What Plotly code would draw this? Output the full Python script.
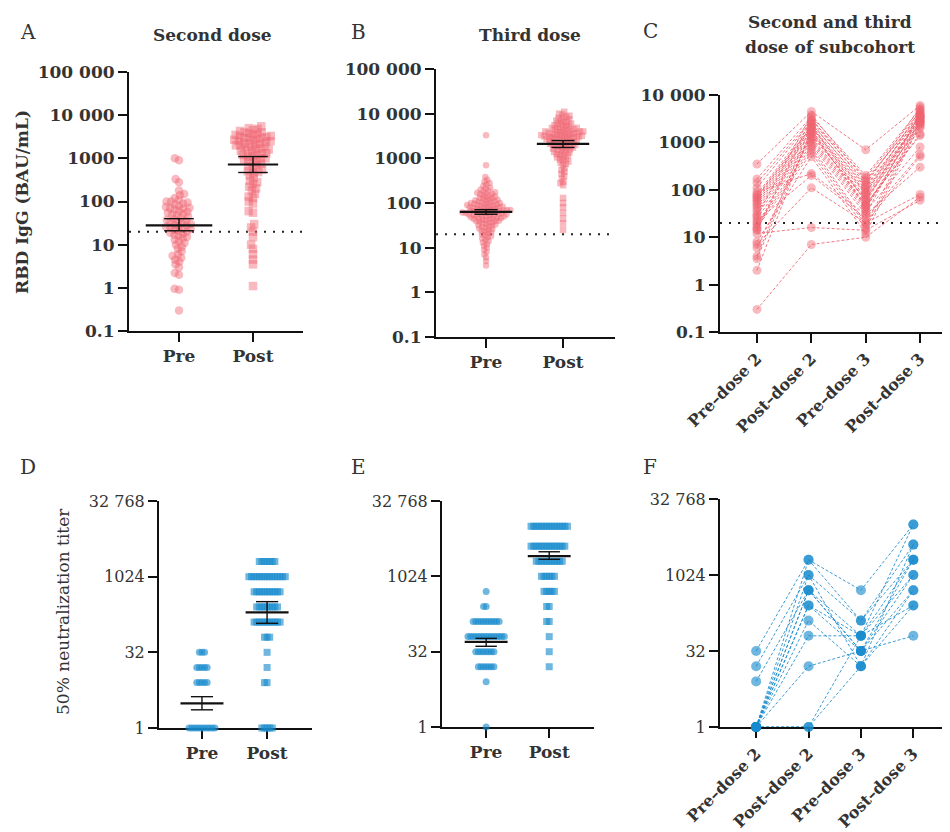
import math
import plotly.graph_objects as go

# page has an 8px body margin, so the figure is 8px smaller than the window
OFF = 8
W, H = 950 - OFF, 832 - OFF

# ---------------- data ----------------
GROUPS = ["Pre", "Post"]
SUB_CATS = ["Pre–dose 2", "Post–dose 2", "Pre–dose 3", "Post–dose 3"]
THRESHOLD = 20

# A: RBD IgG, second dose
A_pre = [1000, 900, 330, 280, 180, 150, 140, 120, 110, 100, 100, 95, 90, 85, 80, 75, 72, 70, 68, 65,
         60, 58, 55, 52, 50, 48, 45, 42, 40, 38, 36, 35, 33, 32, 30, 29, 28, 27, 26, 25, 24, 23, 22,
         21, 20, 19, 18, 17, 16, 15, 14, 13, 12, 11, 10, 9, 8, 7, 6, 5.5, 5, 4.5, 4, 3.5, 3, 2.2, 2,
         0.95, 0.9, 0.3]
A_post = [5500, 5000, 4800, 4500, 4300, 4000, 4000, 3800, 3600, 3500, 3400, 3300, 3200, 3100, 3000,
          3000, 2900, 2800, 2700, 2600, 2500, 2500, 2400, 2300, 2200, 2200, 2100, 2000, 2000, 1900,
          1800, 1800, 1700, 1600, 1600, 1500, 1500, 1400, 1300, 1300, 1200, 1200, 1100, 1100, 1000,
          1000, 950, 900, 850, 800, 750, 700, 650, 600, 550, 500, 480, 450, 400, 350, 300, 280, 250,
          220, 200, 180, 150, 130, 120, 100, 90, 60, 55, 30, 25, 20, 15, 10, 8, 6, 4.5, 3.5, 1.1]
A_gmt = [28, 720]
A_lo = [21, 470]
A_hi = [40, 1100]

# B: RBD IgG, third dose
B_pre = [3300, 700, 380, 330, 300, 280, 260, 240, 220, 210, 200, 190, 180, 175, 170, 165, 160, 155,
         150, 145, 140, 135, 130, 128, 125, 120, 118, 115, 112, 110, 108, 105, 102, 100, 100, 98, 96,
         94, 92, 90, 90, 88, 86, 85, 84, 82, 80, 80, 78, 77, 76, 75, 74, 72, 71, 70, 70, 69, 68, 67,
         66, 65, 65, 64, 63, 62, 61, 60, 60, 59, 58, 57, 56, 55, 55, 54, 53, 52, 51, 50, 50, 49, 48,
         47, 46, 45, 45, 44, 43, 42, 41, 40, 40, 39, 38, 37, 36, 35, 34, 33, 32, 31, 30, 29, 28, 27,
         26, 25, 24, 23, 22, 21, 20, 19, 18, 17, 16, 15, 14, 13, 12, 11, 10, 9, 8, 7, 6, 5, 4]
B_post = [11000, 10000, 9500, 9000, 8500, 8000, 8000, 7500, 7000, 7000, 6500, 6500, 6000, 6000, 5800,
          5500, 5500, 5200, 5000, 5000, 4800, 4800, 4600, 4500, 4500, 4400, 4200, 4200, 4000, 4000,
          4000, 3900, 3800, 3800, 3700, 3600, 3600, 3500, 3500, 3400, 3400, 3300, 3300, 3200, 3200,
          3100, 3100, 3000, 3000, 3000, 2900, 2900, 2800, 2800, 2700, 2700, 2600, 2600, 2500, 2500,
          2400, 2400, 2300, 2300, 2200, 2200, 2100, 2100, 2000, 2000, 1950, 1900, 1850, 1800, 1750,
          1700, 1650, 1600, 1550, 1500, 1450, 1400, 1350, 1300, 1250, 1200, 1150, 1100, 1050, 1000,
          950, 900, 850, 800, 750, 700, 600, 550, 500, 450, 400, 350, 300, 280, 250, 130, 100, 80,
          60, 45, 35, 25]
B_gmt = [63, 2100]
B_lo = [56, 1750]
B_hi = [71, 2500]

# C: subcohort, RBD IgG per subject
C_pre2 = [350, 170, 140, 110, 90, 80, 70, 65, 60, 55, 50, 45, 40, 35, 30, 25, 22, 20, 18, 16, 15, 14,
          12, 8, 7, 6, 4, 3.5, 2, 0.3, 75, 28]
C_post2 = [4500, 3500, 3000, 2800, 220, 2500, 2200, 2000, 1800, 1600, 1500, 1300, 1200, 1100, 1000,
           900, 200, 800, 700, 600, 3200, 2600, 16, 500, 110, 1400, 2400, 1700, 1900, 7, 2100, 3800]
C_pre3 = [700, 200, 180, 150, 30, 120, 100, 90, 80, 70, 60, 50, 45, 40, 35, 30, 25, 20, 18, 15, 130,
          110, 14, 12, 20, 65, 55, 48, 42, 10, 85, 160]
C_post3 = [6000, 5000, 4500, 4000, 300, 3500, 3000, 2800, 2500, 3300, 3800, 1400, 2600, 2900, 800,
           4200, 550, 500, 3100, 2700, 5500, 3600, 60, 2400, 80, 2200, 3400, 1500, 2000, 70, 4800, 3700]

# D: neutralization titer, second dose (titer level -> number of samples)
D_pre_levels = [1, 8, 16, 32]
D_pre_counts = [11, 5, 5, 3]
D_post_levels = [1, 8, 16, 32, 64, 128, 256, 512, 1024, 2048]
D_post_counts = [5, 2, 1, 1, 3, 11, 9, 11, 15, 7]
D_gmt = [3.1, 200]
D_lo = [2.3, 121]
D_hi = [4.2, 326]

# E: neutralization titer, third dose
E_pre_levels = [1, 8, 16, 32, 64, 128, 256, 512]
E_pre_counts = [1, 1, 7, 8, 15, 11, 2, 1]
E_post_levels = [16, 32, 64, 128, 256, 512, 1024, 2048, 4096, 10240]
E_post_counts = [1, 1, 1, 2, 2, 5, 6, 11, 14, 15]
E_gmt = [50, 2600]
E_lo = [41, 2240]
E_hi = [59, 3170]

# F: subcohort, neutralization titer per subject
F_pre2 = [32, 16, 8, 1, 1, 1, 1, 1, 1, 1, 1, 1, 1, 1]
F_post2 = [2048, 1024, 512, 256, 128, 64, 512, 1024, 2048, 256, 16, 1, 1, 512]
F_pre3 = [512, 128, 64, 32, 16, 64, 32, 16, 128, 64, 32, 16, 64, 32]
F_post3 = [10240, 4096, 2048, 1024, 512, 256, 64, 4096, 2048, 10240, 512, 256, 1024, 2048]

LOG_TICKS_TOP = [0.1, 1, 10, 100, 1000, 10000, 100000]
LOG_TEXT_TOP = ["0.1", "1", "10", "100", "1000", "10 000", "100 000"]
TITER_TICKS = [1, 32, 1024, 32768]
TITER_TEXT = ["1", "32", "1024", "32 768"]

# ---------------- style ----------------
FONT = "DejaVu Serif"
TXT = "#333333"
PINK_M = "rgba(240,100,112,0.45)"
PINK_L = "rgba(238,95,108,0.85)"
BLUE_M = "rgba(25,138,205,0.62)"
BLUE_L = "rgba(25,138,205,0.85)"

# panel pixel boxes in window pixels: (left, right, top, bottom)
BOX = {
    1: (129, 303, 72, 331),
    2: (436, 615, 69, 337),
    3: (720, 950, 95, 332),
    4: (159, 312, 501, 728),
    5: (442, 594, 501, 727),
    6: (720, 950, 499, 727),
}
XR = {1: [-0.676, 1.676], 2: [-0.65, 1.675], 3: [-0.68, 3.55],
      4: [-0.66, 1.69], 5: [-0.70, 1.71], 6: [-0.69, 3.70]}
YR = {1: [-1, 5], 2: [-1, 5], 3: [-1, 4],
      4: [0, math.log10(32768)], 5: [0, math.log10(32768)], 6: [0, math.log10(32768)]}


def fx(px):
    return min(max((px - OFF) / W, 0), 1)


def fy(py):
    return min(max(1 - (py - OFF) / H, 0), 1)


def px_per_unit(k):
    l, r, t, b = BOX[k]
    ppc = (r - l) / (XR[k][1] - XR[k][0])
    ppd = (b - t) / (YR[k][1] - YR[k][0])
    return ppc, ppd


def swarm(vals, k, d):
    """Beeswarm offsets (category units) computed from the values on axis k."""
    ppc, ppd = px_per_unit(k)
    ys = [math.log10(v) * ppd for v in vals]
    order = sorted(range(len(vals)), key=lambda i: ys[i])
    placed = []
    xs = [0.0] * len(vals)
    for i in order:
        y = ys[i]
        near = [(px, py) for px, py in placed if abs(py - y) < d]
        cands = [0.0]
        for px, py in near:
            h = math.sqrt(max(d * d - (py - y) ** 2, 0))
            cands += [px - h, px + h]
        cands.sort(key=abs)
        for c in cands:
            if all((c - px) ** 2 + (y - py) ** 2 >= d * d - 1e-6 for px, py in near):
                xs[i] = c
                break
        placed.append((xs[i], y))
    return [x / ppc for x in xs]


def expand(levels, counts):
    out = []
    for lv, n in zip(levels, counts):
        out += [lv] * n
    return out


fig = go.Figure()


def ax(k):
    return ("x" if k == 1 else f"x{k}"), ("y" if k == 1 else f"y{k}")


def add_swarm(k, gidx, vals, symbol, size, d, color):
    xa, ya = ax(k)
    offs = swarm(vals, k, d)
    fig.add_trace(go.Scatter(
        x=[gidx + o for o in offs], y=vals, mode="markers", xaxis=xa, yaxis=ya,
        marker=dict(symbol=symbol, size=size, color=color, line=dict(width=0)),
        cliponaxis=False, showlegend=False, hoverinfo="y"))


def add_gmt(k, gmt, lo, hi, hws=(0.36, 0.36), cw=0.18):
    xa, ya = ax(k)
    mx, my, wx, wy = [], [], [], []
    for g in range(len(gmt)):
        hw = hws[g]
        mx += [g - hw, g + hw, None]
        my += [gmt[g], gmt[g], None]
        wx += [g, g, None, g - cw, g + cw, None, g - cw, g + cw, None]
        wy += [lo[g], hi[g], None, lo[g], lo[g], None, hi[g], hi[g], None]
    fig.add_trace(go.Scatter(x=wx, y=wy, mode="lines", xaxis=xa, yaxis=ya,
                             line=dict(color="#111", width=1.4), showlegend=False, hoverinfo="skip",
                             cliponaxis=False))
    fig.add_trace(go.Scatter(x=mx, y=my, mode="lines", xaxis=xa, yaxis=ya,
                             line=dict(color="#111", width=2.2), showlegend=False, hoverinfo="skip",
                             cliponaxis=False))


def add_threshold(k):
    xa, ya = ax(k)
    fig.add_trace(go.Scatter(x=XR[k], y=[THRESHOLD, THRESHOLD], mode="lines", xaxis=xa, yaxis=ya,
                             line=dict(color="#222", width=2, dash="2px,7px"),
                             showlegend=False, hoverinfo="skip"))


def add_pairs(k, series, mcolor, lcolor, msize):
    xa, ya = ax(k)
    xs, ys = [], []
    for vals in zip(*series):
        for j, v in enumerate(vals):
            xs.append(j)
            ys.append(v)
        xs.append(None)
        ys.append(None)
    fig.add_trace(go.Scatter(x=xs, y=ys, mode="lines", xaxis=xa, yaxis=ya,
                             line=dict(color=lcolor, width=1, dash="3px,2px"),
                             showlegend=False, hoverinfo="skip", cliponaxis=False))
    fig.add_trace(go.Scatter(x=xs, y=ys, mode="markers", xaxis=xa, yaxis=ya,
                             marker=dict(size=msize, color=mcolor, line=dict(width=0)),
                             showlegend=False, hoverinfo="y", cliponaxis=False))


# Panel A
add_threshold(1)
add_swarm(1, 0, A_pre, "circle", 8.5, 4.6, PINK_M)
add_swarm(1, 1, A_post, "square", 8.5, 4.6, PINK_M)
add_gmt(1, A_gmt, A_lo, A_hi, hws=(0.45, 0.34), cw=0.2)
# Panel B
add_threshold(2)
add_swarm(2, 0, B_pre, "circle", 6.5, 3.4, PINK_M)
add_swarm(2, 1, B_post, "square", 6.5, 3.4, PINK_M)
add_gmt(2, B_gmt, B_lo, B_hi, hws=(0.34, 0.34), cw=0.15)
# Panel C
add_threshold(3)
add_pairs(3, [C_pre2, C_post2, C_pre3, C_post3], PINK_M, PINK_L, 9)
# Panel D
add_swarm(4, 0, expand(D_pre_levels, D_pre_counts), "circle", 7, 2.6, BLUE_M)
add_swarm(4, 1, expand(D_post_levels, D_post_counts), "square", 7, 2.6, BLUE_M)
add_gmt(4, D_gmt, D_lo, D_hi, hws=(0.33, 0.33), cw=0.17)
# Panel E
add_swarm(5, 0, expand(E_pre_levels, E_pre_counts), "circle", 7, 2.6, BLUE_M)
add_swarm(5, 1, expand(E_post_levels, E_post_counts), "square", 7, 2.6, BLUE_M)
add_gmt(5, E_gmt, E_lo, E_hi, hws=(0.34, 0.34), cw=0.17)
# Panel F
add_pairs(6, [F_pre2, F_post2, F_pre3, F_post3], BLUE_M, BLUE_L, 10)

layout = dict(
    width=W, height=H, margin=dict(l=0, r=0, t=0, b=0, autoexpand=False),
    paper_bgcolor="white", plot_bgcolor="white", showlegend=False,
    font=dict(family=FONT, color=TXT, size=16),
)

for k in range(1, 7):
    l, r, t, b = BOX[k]
    xname = "xaxis" if k == 1 else f"xaxis{k}"
    yname = "yaxis" if k == 1 else f"yaxis{k}"
    xa, ya = ax(k)
    sub = k in (3, 6)
    top = k <= 3
    layout[xname] = dict(
        domain=[fx(l), fx(r)], anchor=ya, range=XR[k], automargin=False,
        tickmode="array", tickvals=list(range(4 if sub else 2)),
        ticktext=SUB_CATS if sub else GROUPS,
        tickangle=-45 if sub else 0,
        showline=True, linecolor="#111", linewidth=2, ticks="outside", ticklen=9,
        tickwidth=2, tickcolor="#111", showgrid=False, zeroline=False, layer="below traces",
        tickfont=dict(family=FONT, size=17 if not sub else 16, color=TXT, weight="bold"),
        fixedrange=True,
    )
    layout[yname] = dict(
        domain=[fy(b), fy(t)], anchor=xa, type="log", range=YR[k], automargin=False,
        tickmode="array",
        tickvals=LOG_TICKS_TOP if top else TITER_TICKS,
        ticktext=LOG_TEXT_TOP if top else TITER_TEXT,
        showline=True, linecolor="#111", linewidth=2, ticks="outside", ticklen=9,
        tickwidth=2, tickcolor="#111", showgrid=False, zeroline=False,
        tickfont=dict(family=FONT, size=17 if top else 16, color=TXT,
                      weight="bold" if top else "normal"),
        fixedrange=True,
    )

fig.update_layout(**layout)


def ann(text, x, y, size, bold=False, angle=0):
    fig.add_annotation(text=text, x=fx(x), y=fy(y), xref="paper", yref="paper",
                       showarrow=False, xanchor="center", yanchor="middle", textangle=angle,
                       font=dict(family=FONT, size=size, color=TXT,
                                 weight="bold" if bold else "normal"))


for lab, x, y in [("A", 28, 32), ("B", 358, 32), ("C", 650, 31),
                  ("D", 28, 467), ("E", 358, 467), ("F", 650, 467)]:
    ann(lab, x, y, 20)

ann("Second dose", 212, 35, 17, bold=True)
ann("Third dose", 530, 35, 17, bold=True)
ann("Second and third", 830, 22, 17, bold=True)
ann("dose of subcohort", 830, 47, 17, bold=True)
ann("RBD IgG (BAU/mL)", 22, 202, 17, bold=True, angle=-90)
ann("50% neutralization titer", 63, 612, 17, angle=-90)

fig.write_html("out.html")
